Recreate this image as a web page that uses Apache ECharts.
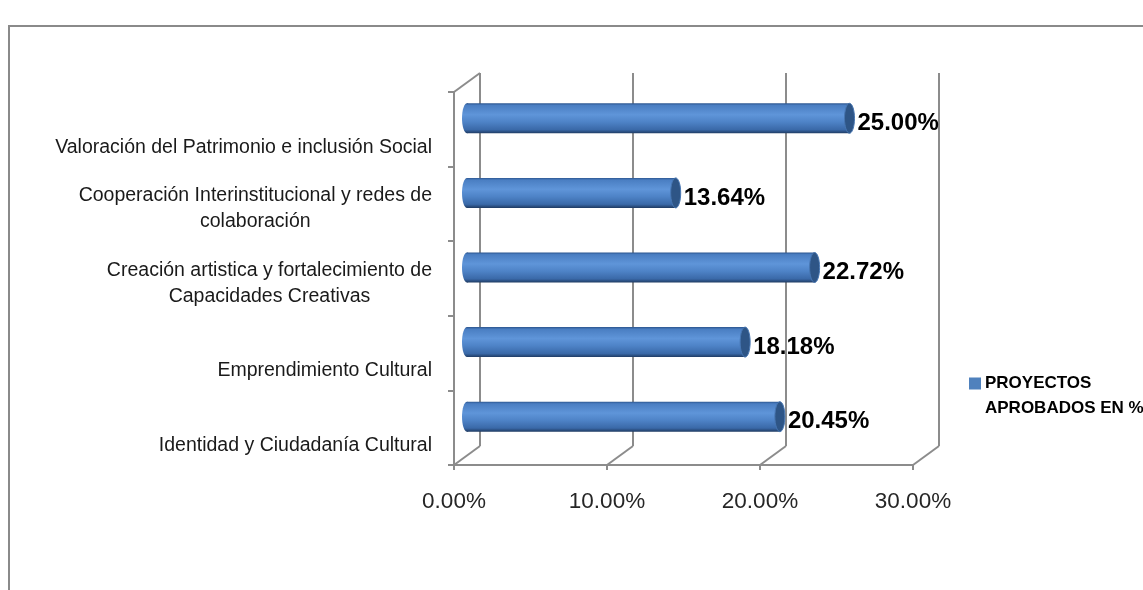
<!DOCTYPE html>
<html>
<head>
<meta charset="utf-8">
<script src="https://cdn.jsdelivr.net/npm/echarts@6/dist/echarts.min.js"></script>
<style>
  html, body { margin: 0; padding: 0; background: #fff; overflow: hidden; }
  #wrap { position: relative; width: 1143px; height: 590px; }
  #frame { position: absolute; left: 8px; top: 25px; width: 1160px; height: 600px; border: 2px solid #8a8a8a; box-sizing: border-box; }
  #chart { position: absolute; left: 0; top: 0; width: 1143px; height: 590px; }
</style>
</head>
<body>
<div id="wrap">
  <div id="frame"></div>
  <div id="chart"></div>
</div>
<script>
// ---- data (top-to-bottom order) ----
const categories = [
  'Valoración del Patrimonio e inclusión Social',
  'Cooperación Interinstitucional y redes de\ncolaboración',
  'Creación artistica y fortalecimiento de\nCapacidades Creativas',
  'Emprendimiento Cultural',
  'Identidad y Ciudadanía Cultural'
];
const values = [25.00, 13.64, 22.72, 18.18, 20.45];
const xTicks = [0, 10, 20, 30];
const seriesName = 'PROYECTOS APROBADOS EN %';

// ---- styling constants ----
const GRID = '#8c8c8c';
const DEPTH_X = 26, DEPTH_Y = -19;   // 3D wall offset
const BAR_DX = 13, BAR_DY = -11;     // bar plane offset
const BAR_HALF = 15, CAP_RX = 5;

const chart = echarts.init(document.getElementById('chart'));

function bodyGradient() {
  return new echarts.graphic.LinearGradient(0, 0, 0, 1, [
    { offset: 0, color: '#2c5690' },
    { offset: 0.07, color: '#4a7ec2' },
    { offset: 0.38, color: '#5f95d9' },
    { offset: 0.62, color: '#4e83c7' },
    { offset: 0.88, color: '#3a69a8' },
    { offset: 1, color: '#1f3b63' }
  ]);
}

function renderBar(params, api) {
  const idx = api.value(0);
  const val = api.value(1);
  const s = api.coord([0, idx]);
  const e = api.coord([val, idx]);
  const x0 = s[0] + BAR_DX, x1 = e[0] + BAR_DX, cy = s[1] + BAR_DY;
  return {
    type: 'group',
    children: [
      { type: 'ellipse', shape: { cx: x0, cy: cy, rx: CAP_RX, ry: BAR_HALF },
        style: { fill: bodyGradient() } },
      { type: 'rect', shape: { x: x0, y: cy - BAR_HALF, width: x1 - x0, height: BAR_HALF * 2 },
        style: { fill: bodyGradient() } },
      { type: 'ellipse', shape: { cx: x1, cy: cy, rx: CAP_RX, ry: BAR_HALF },
        style: { fill: '#2e5586', stroke: '#4776b2', lineWidth: 1 } },
      { type: 'text', style: {
          text: val.toFixed(2) + '%', x: x1 + CAP_RX + 3, y: cy + 5,
          align: 'left', verticalAlign: 'middle',
          fill: '#000', font: 'bold 24px "Liberation Sans", Arial, sans-serif' } }
    ]
  };
}

function renderFrame(params, api) {
  const cs = params.coordSys;
  const v = api.value(0);
  const p = api.coord([v, 0]);
  const bottom = cs.y + cs.height;
  const children = [
    { type: 'line', shape: { x1: p[0], y1: bottom, x2: p[0] + DEPTH_X, y2: bottom + DEPTH_Y },
      style: { stroke: GRID, lineWidth: 2 } }
  ];
  if (params.dataIndex === 0) {
    children.push({ type: 'line', shape: { x1: cs.x, y1: cs.y, x2: cs.x + DEPTH_X, y2: cs.y + DEPTH_Y },
      style: { stroke: GRID, lineWidth: 2 } });
  }
  return { type: 'group', children: children };
}

const labelFont = '"Liberation Sans", Arial, sans-serif';

chart.setOption({
  animation: false,
  grid: [
    { left: 454, top: 92, width: 459, height: 373 },                  // front plane
    { left: 454 + DEPTH_X, top: 92 + DEPTH_Y, width: 459, height: 373 } // back wall
  ],
  legend: {
    left: 969, top: 371, orient: 'vertical', padding: 0,
    itemWidth: 12, itemHeight: 37, itemGap: 6,
    data: [{ name: seriesName, icon: 'path://M0,0L12,0L12,12L0,12Z M0,36.98L0.02,37L0,37Z' }],
    formatter: function () { return 'PROYECTOS\nAPROBADOS EN %'; },
    textStyle: { fontFamily: labelFont, fontWeight: 'bold', fontSize: 17, color: '#000',
      lineHeight: 25, padding: [0, 0, 0, -1] }
  },
  xAxis: [
    { gridIndex: 0, type: 'value', min: 0, max: 30, interval: 10,
      axisLine: { show: true, lineStyle: { color: GRID, width: 2 } },
      axisTick: { show: true, length: 5, lineStyle: { color: GRID, width: 2 } },
      splitLine: { show: false },
      axisLabel: { margin: 25, fontSize: 22.5, color: '#262626', fontFamily: labelFont,
        formatter: function (v) { return v.toFixed(2) + '%'; } } },
    { gridIndex: 1, type: 'value', min: 0, max: 30, interval: 10,
      axisLine: { show: false }, axisTick: { show: false }, axisLabel: { show: false },
      splitLine: { show: true, lineStyle: { color: GRID, width: 2 } } }
  ],
  yAxis: [
    { gridIndex: 0, type: 'category', data: categories, inverse: true,
      axisLine: { show: true, lineStyle: { color: GRID, width: 2 } },
      axisTick: { show: true, length: 6, lineStyle: { color: GRID, width: 2 } },
      axisLabel: {
        margin: 22, fontSize: 19.5, color: '#1a1a1a', fontFamily: labelFont,
        lineHeight: 26, padding: [10, 0, 0, 0],
        formatter: function (v) {
          const lines = v.split('\n').map(function (l) { return '{c|' + l + '}'; });
          if (lines.length === 1) lines.unshift('{c| }');
          return lines.join('\n');
        },
        rich: { c: { align: 'center', fontSize: 19.5, lineHeight: 26, color: '#1a1a1a', fontFamily: labelFont } }
      } },
    { gridIndex: 1, type: 'value', show: false, splitLine: { show: false } }
  ],
  series: [
    { type: 'custom', name: 'frame', xAxisIndex: 0, yAxisIndex: 0, z: 1, silent: true,
      renderItem: renderFrame, encode: { x: 0, y: 1 },
      data: xTicks.map(function (v) { return [v, 0]; }) },
    { type: 'custom', name: seriesName, xAxisIndex: 0, yAxisIndex: 0, z: 5,
      itemStyle: { color: '#4f81bd' },
      renderItem: renderBar, encode: { x: 1, y: 0 },
      data: values.map(function (v, i) { return [i, v]; }) }
  ]
});
</script>
</body>
</html>
